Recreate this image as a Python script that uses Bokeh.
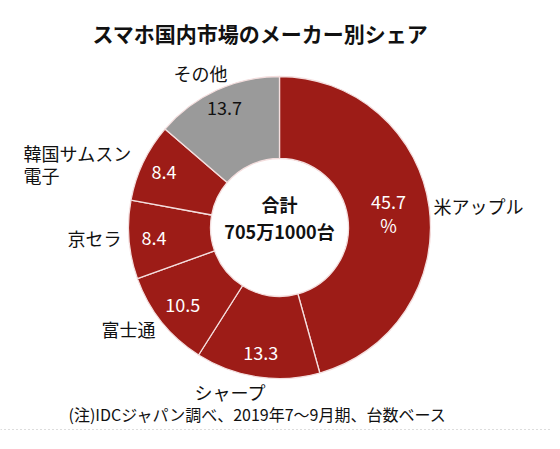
import math
from bokeh.plotting import figure
from bokeh.models import ColumnDataSource
from bokeh.core.properties import value
from bokeh.embed import file_html
from bokeh.resources import INLINE

# ---- data ----
makers = ["米アップル", "シャープ", "富士通", "京セラ", "韓国サムスン電子", "その他"]
shares = [45.7, 13.3, 10.5, 8.4, 8.4, 13.7]
title_text = "スマホ国内市場のメーカー別シェア"
center_lines = ["合計", "705万1000台"]
note_text = "(注)IDCジャパン調べ、2019年7～9月期、台数ベース"

# ---- style / layout ----
W, H = 552, 441
FONT = "Noto Sans CJK JP"
RED = "#9d1c17"
GRAY = "#9a9a9a"
colors = [RED, RED, RED, RED, RED, GRAY]
value_colors = ["white", "white", "white", "white", "white", "#111111"]

def X(px):
    return px

def Y(py):
    return H - py

cx, cy = X(279), Y(227)
r_in, r_out = 69, 151
label_r = [110, 127, 124, 126, 128, 132]

total = sum(shares)
starts, ends, mids = [], [], []
acc = 0.0
for v in shares:
    a0 = math.pi / 2 - 2 * math.pi * acc / total
    acc += v
    a1 = math.pi / 2 - 2 * math.pi * acc / total
    starts.append(a0)
    ends.append(a1)
    mids.append((a0 + a1) / 2)

p = figure(width=W, height=H, x_range=(0, W), y_range=(0, H),
           output_backend="svg", toolbar_location=None, min_border=0)
p.axis.visible = False
p.grid.visible = False
p.outline_line_color = None
p.background_fill_color = "white"

src = ColumnDataSource(dict(start=starts, end=ends, color=colors))
p.annular_wedge(x=cx, y=cy, inner_radius=r_in, outer_radius=r_out,
                start_angle="start", end_angle="end", direction="clock",
                fill_color="color", line_color="#f4dede", line_width=1.3,
                source=src)

# value labels inside ring
vx = [cx + r * math.cos(m) for r, m in zip(label_r, mids)]
vy = [cy + r * math.sin(m) for r, m in zip(label_r, mids)]
vtxt = [f"{v:.1f}" for v in shares]
vy[0] += 11
vsrc = ColumnDataSource(dict(x=vx, y=vy, t=vtxt, c=value_colors))
p.text(x="x", y="y", text="t", text_color="c", source=vsrc,
       text_font=value(FONT), text_font_size="18px",
       text_align="center", text_baseline="middle")
p.text(x=[vx[0]], y=[vy[0] - 23], text=["%"], text_color="white",
       text_font=value(FONT), text_font_size="18px",
       text_align="center", text_baseline="middle")

# outer category labels
lab_txt = ["米アップル", "シャープ", "富士通", "京セラ", "韓国サムスン", "電子", "その他"]
lab_x = [X(433), X(230), X(128), X(121), X(23), X(23), X(200)]
lab_y = [Y(205), Y(391), Y(328), Y(237), Y(152), Y(174), Y(72)]
lab_al = ["left", "center", "center", "right", "left", "left", "center"]
lsrc = ColumnDataSource(dict(x=lab_x, y=lab_y, t=lab_txt, a=lab_al))
p.text(x="x", y="y", text="t", text_align="a", source=lsrc,
       text_color="#111111", text_font=value(FONT), text_font_size="18px",
       text_baseline="middle")

# center
p.text(x=[cx, cx], y=[Y(203), Y(230)], text=center_lines,
       text_color="#111111", text_font=value(FONT), text_font_size="18px",
       text_font_style="bold", text_align="center", text_baseline="middle")

# title
p.text(x=[X(260)], y=[Y(32)], text=[title_text], text_color="#111111",
       text_font=value(FONT), text_font_size="21px", text_font_style="bold",
       text_align="center", text_baseline="middle")

# note
p.text(x=[X(257)], y=[Y(413)], text=[note_text], text_color="#111111",
       text_font=value(FONT), text_font_size="16px",
       text_align="center", text_baseline="middle")

# dotted rule
p.line(x=[0, W], y=[Y(429), Y(429)], line_color="#bbbbbb",
       line_dash="1 3", line_width=1)

open("out.html", "w").write(file_html(p, INLINE))
